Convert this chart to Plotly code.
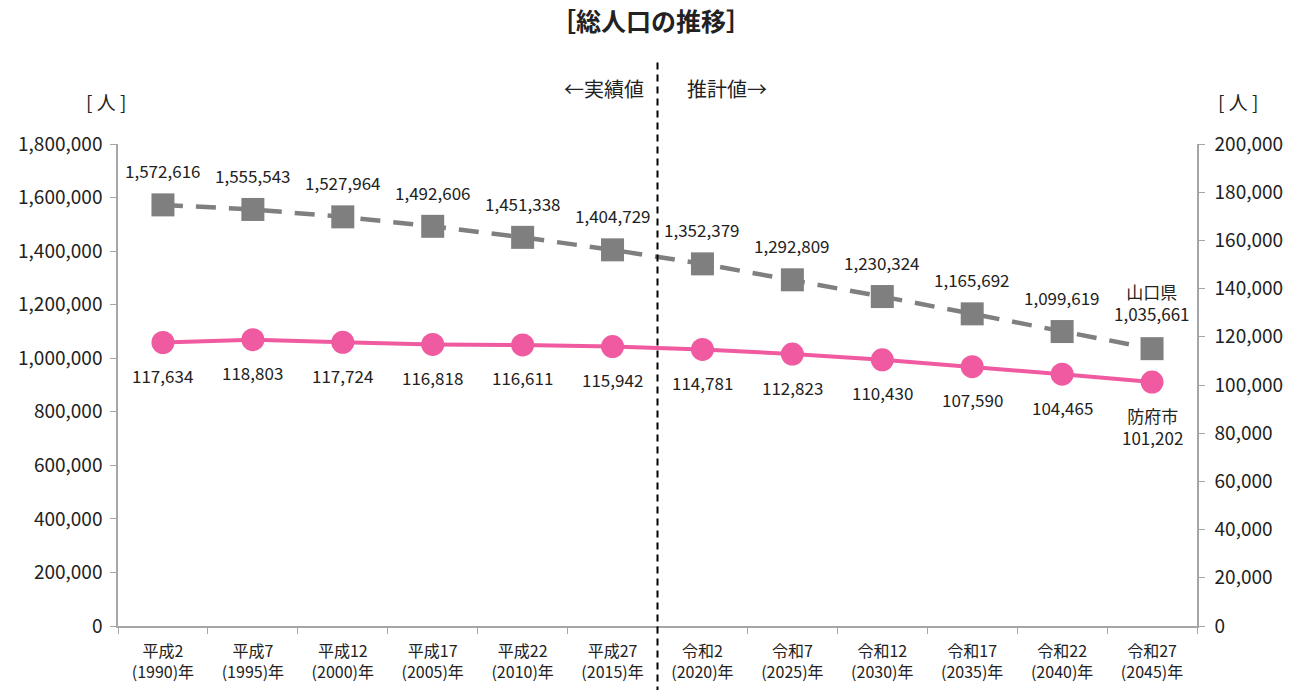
import plotly.graph_objects as go

categories = ["平成2<br>(1990)年", "平成7<br>(1995)年", "平成12<br>(2000)年", "平成17<br>(2005)年",
              "平成22<br>(2010)年", "平成27<br>(2015)年", "令和2<br>(2020)年", "令和7<br>(2025)年",
              "令和12<br>(2030)年", "令和17<br>(2035)年", "令和22<br>(2040)年", "令和27<br>(2045)年"]
pref_name = "山口県"
city_name = "防府市"
pref_values = [1572616, 1555543, 1527964, 1492606, 1451338, 1404729,
               1352379, 1292809, 1230324, 1165692, 1099619, 1035661]
city_values = [117634, 118803, 117724, 116818, 116611, 115942,
               114781, 112823, 110430, 107590, 104465, 101202]
left_ticks = list(range(0, 1800001, 200000))
right_ticks = list(range(0, 200001, 20000))

FONT = "Noto Sans CJK JP"
GREY = "#7f7f7f"
PINK = "#ef5aa0"
AXIS = "#a6a6a6"
TXT = "#222222"

fig = go.Figure()
fig.add_trace(go.Scatter(
    x=categories, y=pref_values, name=pref_name, mode="lines+markers",
    line=dict(color=GREY, width=4.5, dash="20px,13px"),
    marker=dict(symbol="square", size=23, color=GREY),
    yaxis="y", cliponaxis=False,
))
fig.add_trace(go.Scatter(
    x=categories, y=city_values, name=city_name, mode="lines+markers",
    line=dict(color=PINK, width=4),
    marker=dict(symbol="circle", size=23, color=PINK),
    yaxis="y2", cliponaxis=False,
))

annotations = []
n = len(categories)
for i, (c, v) in enumerate(zip(categories, pref_values)):
    last = i == n - 1
    txt = f"{pref_name}<br>{v:,}" if last else f"{v:,}"
    annotations.append(dict(x=c, y=v, xref="x", yref="y", text=txt, showarrow=False,
                            yshift=46 if last else 34, font=dict(size=17, color=TXT, family=FONT)))
for i, (c, v) in enumerate(zip(categories, city_values)):
    last = i == n - 1
    txt = f"{city_name}<br>{v:,}" if last else f"{v:,}"
    annotations.append(dict(x=c, y=v, xref="x", yref="y2", text=txt, showarrow=False,
                            yshift=-44 if last else -33, font=dict(size=17, color=TXT, family=FONT)))

annotations += [
    dict(x=-0.011, y=1.089, xref="paper", yref="paper", text="[ 人 ]", showarrow=False,
         xanchor="center", yanchor="middle", font=dict(size=19, color=TXT, family=FONT)),
    dict(x=1.038, y=1.089, xref="paper", yref="paper", text="[ 人 ]", showarrow=False,
         xanchor="center", yanchor="middle", font=dict(size=19, color=TXT, family=FONT)),
    dict(x=0.5, y=1.116, xref="paper", yref="paper", text="←実績値", showarrow=False,
         xanchor="right", yanchor="middle", xshift=-12, font=dict(size=20, color=TXT, family=FONT)),
    dict(x=0.5, y=1.116, xref="paper", yref="paper", text="推計値→", showarrow=False,
         xanchor="left", yanchor="middle", xshift=27, font=dict(size=20, color=TXT, family=FONT)),
]

fig.update_layout(
    width=1302, height=690,
    margin=dict(l=118, r=105, t=144, b=64, autoexpand=False),
    paper_bgcolor="white", plot_bgcolor="white",
    showlegend=False,
    font=dict(family=FONT, color=TXT),
    title=dict(text="<b>［総人口の推移］</b>", x=0.5, xref="container", y=0.968, yref="container",
               xanchor="center", yanchor="middle", font=dict(size=25, color=TXT, family=FONT)),
    xaxis=dict(type="category", tickson="boundaries", ticks="outside", ticklen=6, tickcolor=AXIS,
               showline=True, linecolor=AXIS, linewidth=1.5, showgrid=False, zeroline=False,
               automargin=False, ticklabelstandoff=10, tickfont=dict(size=16, color=TXT),
               range=[-0.5, n - 0.5]),
    yaxis=dict(range=[0, 1800000], tickvals=left_ticks, tickformat=",", ticks="outside", ticklen=6,
               tickcolor=AXIS, showline=True, linecolor=AXIS, linewidth=1.5, showgrid=False,
               zeroline=False, automargin=False, ticklabelstandoff=4, tickfont=dict(size=19, color=TXT)),
    yaxis2=dict(range=[0, 200000], tickvals=right_ticks, tickformat=",", overlaying="y", side="right",
                ticks="outside", ticklen=6, tickcolor=AXIS, showline=True, linecolor=AXIS, linewidth=1.5,
                showgrid=False, zeroline=False, automargin=False, ticklabelstandoff=6,
                tickfont=dict(size=19, color=TXT)),
    shapes=[dict(type="line", xref="x", yref="paper", x0=5.5, x1=5.5, y0=-0.14, y1=1.17,
                 line=dict(color="black", width=2, dash="7px,5px"))],
    annotations=annotations,
)

fig.write_html("out.html")
